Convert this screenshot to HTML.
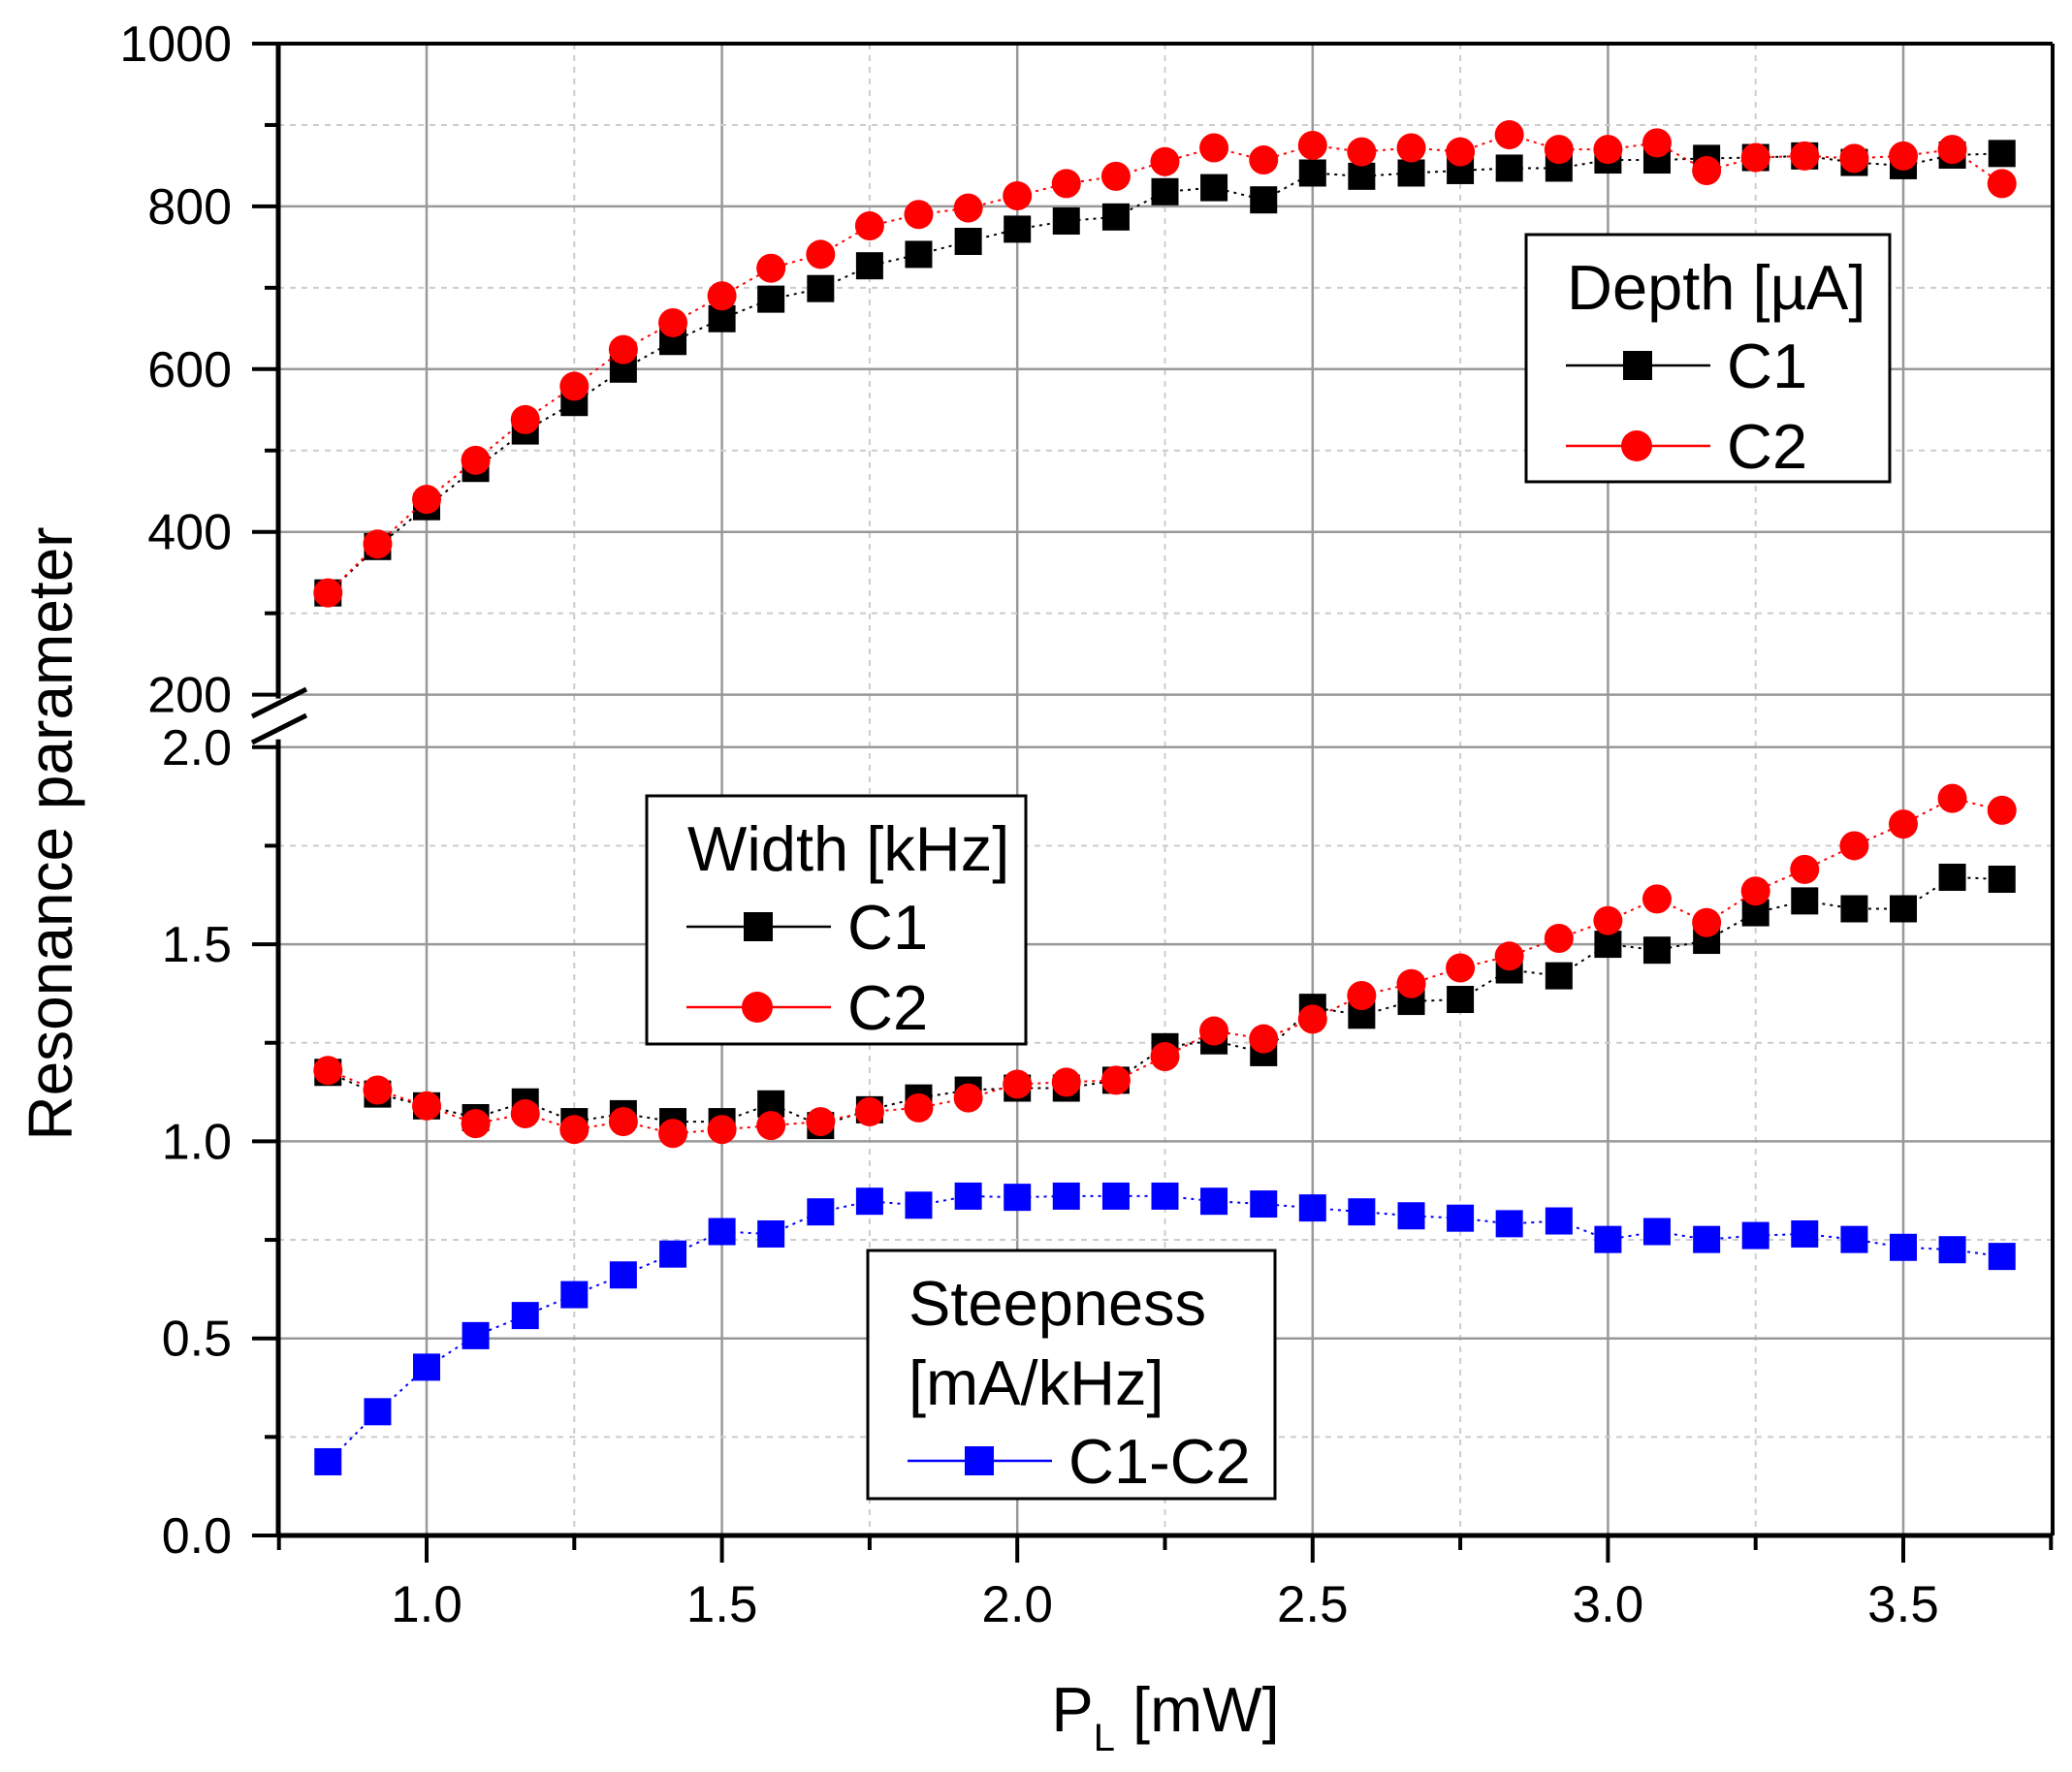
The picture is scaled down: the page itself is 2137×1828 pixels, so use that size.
<!DOCTYPE html>
<html><head><meta charset="utf-8"><style>
html,body{margin:0;padding:0;background:#fff;}
svg{display:block;font-family:"Liberation Sans",Arial,sans-serif;}
</style></head><body>
<svg id="chart" width="2137" height="1828" viewBox="0 0 2137 1828" xmlns="http://www.w3.org/2000/svg">
<g id="grid"></g>
<g id="axes"></g>
<g id="series"></g>
<g id="legends"></g>
<text x="0" y="0" font-size="64" text-anchor="middle" transform="translate(74,860) rotate(-90)">Resonance parameter</text>
<text x="1202" y="1786" font-size="65" text-anchor="middle">P<tspan font-size="40" dy="20">L</tspan><tspan dy="-20"> [mW]</tspan></text>
</svg>
<script>
const xValues = [0.833,0.917,1.0,1.083,1.167,1.25,1.333,1.417,1.5,1.583,1.667,1.75,1.833,1.917,2.0,2.083,2.167,2.25,2.333,2.417,2.5,2.583,2.667,2.75,2.833,2.917,3.0,3.083,3.167,3.25,3.333,3.417,3.5,3.583,3.667];
const depthC1 = [325,382,431,478,524,559,600,634,662,686,699,727,741,757,772,782,787,818,823,808,841,837,841,844,847,847,857,857,859,860,862,854,850,863,865];
const depthC2 = [325,385,440,488,538,579,624,657,690,724,741,776,790,798,813,828,837,855,872,857,875,867,872,867,888,870,870,878,844,860,862,859,862,870,828];
const widthC1 = [1.175,1.12,1.09,1.06,1.10,1.05,1.07,1.05,1.05,1.095,1.04,1.08,1.11,1.13,1.135,1.135,1.155,1.24,1.255,1.225,1.34,1.32,1.355,1.36,1.435,1.42,1.50,1.485,1.51,1.58,1.61,1.59,1.59,1.67,1.665];
const widthC2 = [1.18,1.13,1.09,1.045,1.07,1.03,1.05,1.02,1.03,1.04,1.05,1.075,1.085,1.11,1.145,1.15,1.155,1.215,1.28,1.26,1.31,1.37,1.40,1.44,1.47,1.515,1.56,1.615,1.555,1.635,1.69,1.75,1.805,1.87,1.84];
const steepness = [0.187,0.314,0.427,0.507,0.558,0.611,0.661,0.714,0.771,0.765,0.821,0.848,0.838,0.861,0.858,0.861,0.861,0.861,0.848,0.841,0.831,0.821,0.811,0.805,0.791,0.798,0.751,0.771,0.751,0.761,0.765,0.751,0.731,0.725,0.708];
const xTicks = ["1.0","1.5","2.0","2.5","3.0","3.5"];
const topTicks = ["200","400","600","800","1000"];
const botTicks = ["0.0","0.5","1.0","1.5","2.0"];

const NS="http://www.w3.org/2000/svg";
const L=287,R=2117,B=1584,T=45;
function xs(v){return 440+(v-1.0)*609.2;}
function yTop(v){return 45+(1000-v)*0.8395;}
function yBot(v){return 1584-v*406.6;}
function mk(tag,attrs,parent){const e=document.createElementNS(NS,tag);for(const k in attrs)e.setAttribute(k,attrs[k]);parent.appendChild(e);return e;}
const grid=document.getElementById('grid'),axes=document.getElementById('axes'),ser=document.getElementById('series'),leg=document.getElementById('legends');

for(let v=0.75;v<=3.76;v+=0.25){
  const x=xs(v);const major=Math.abs(v*2-Math.round(v*2))<1e-6 && v>=1.0;
  if(x<=L+2||x>=R-2)continue;
  const g=mk('line',{x1:x,x2:x,y1:T,y2:B,stroke:major?'#999':'#ccc','stroke-width':major?2.5:2,'stroke-dasharray':major?'':'6,6'},grid);
  
}
for(let v=200;v<1000;v+=100){
  const y=yTop(v);const major=v%200===0;
  const g=mk('line',{x1:L,x2:R,y1:y,y2:y,stroke:major?'#999':'#ccc','stroke-width':major?2.5:2,'stroke-dasharray':major?'':'6,6'},grid);
  
}
for(let v=0.25;v<=2.0;v+=0.25){
  const y=yBot(v);const major=Math.abs(v*2-Math.round(v*2))<1e-6;
  const g=mk('line',{x1:L,x2:R,y1:y,y2:y,stroke:major?'#999':'#ccc','stroke-width':major?2.5:2,'stroke-dasharray':major?'':'6,6'},grid);
  
}
mk('line',{x1:L,x2:R,y1:T,y2:T,stroke:'#000','stroke-width':4},axes);
mk('line',{x1:R,x2:R,y1:T,y2:B,stroke:'#000','stroke-width':4},axes);
mk('line',{x1:L,x2:R,y1:B,y2:B,stroke:'#000','stroke-width':5},axes);
mk('line',{x1:L,x2:L,y1:T,y2:yTop(200)+4,stroke:'#000','stroke-width':5},axes);
mk('line',{x1:L,x2:L,y1:yBot(2.0)-8,y2:B,stroke:'#000','stroke-width':5},axes);
mk('line',{x1:260,x2:316,y1:739,y2:711,stroke:'#000','stroke-width':5},axes);
mk('line',{x1:260,x2:316,y1:766,y2:738,stroke:'#000','stroke-width':5},axes);
for(let v=0.75;v<=3.76;v+=0.25){
  const x=xs(v);const major=Math.abs(v*2-Math.round(v*2))<1e-6;
  mk('line',{x1:x,x2:x,y1:B,y2:B+(major?28:15),stroke:'#000','stroke-width':4},axes);
}
xTicks.forEach(t=>{const e=mk('text',{x:xs(parseFloat(t)),y:1673,'font-size':53,'text-anchor':'middle'},axes);e.textContent=t;
 });
for(let v=200;v<=1000;v+=100){const y=yTop(v);mk('line',{x1:L-(v%200===0?27:14),x2:L,y1:y,y2:y,stroke:'#000','stroke-width':4},axes);}
topTicks.forEach(t=>{const e=mk('text',{x:239,y:yTop(parseFloat(t))+18,'font-size':52,'text-anchor':'end'},axes);e.textContent=t;
 });
for(let v=0;v<=2.0;v+=0.25){const y=yBot(v);const major=Math.abs(v*2-Math.round(v*2))<1e-6;mk('line',{x1:L-(major?27:14),x2:L,y1:y,y2:y,stroke:'#000','stroke-width':4},axes);}
botTicks.forEach(t=>{const e=mk('text',{x:239,y:yBot(parseFloat(t))+18,'font-size':52,'text-anchor':'end'},axes);e.textContent=t;
 });

function drawSeries(vals,yf,color,shape,name){
  const g=mk('g',{},ser);
  
  
  const pts=vals.map((v,i)=>xs(xValues[i])+','+yf(v)).join(' ');
  mk('polyline',{points:pts,fill:'none',stroke:color,'stroke-width':2,'stroke-dasharray':'3,5'},g);
  vals.forEach((v,i)=>{
    const x=xs(xValues[i]),y=yf(v);let m;
    if(shape==='sq')m=mk('rect',{x:x-14,y:y-14,width:28,height:28,fill:color},g);
    else m=mk('circle',{cx:x,cy:y,r:15,fill:color},g);
    
    
  });
}
drawSeries(depthC1,yTop,'#000','sq','depth-c1');
drawSeries(depthC2,yTop,'#f00','ci','depth-c2');
drawSeries(widthC1,yBot,'#000','sq','width-c1');
drawSeries(widthC2,yBot,'#f00','ci','width-c2');
drawSeries(steepness,yBot,'#00f','sq','steepness-c1-c2');

function legend(x,y,w,h,titleLines,entries,name){
  const g=mk('g',{},leg);
  
  
  mk('rect',{x:x,y:y,width:w,height:h,fill:'#fff',stroke:'#000','stroke-width':3},g);
  titleLines.forEach((t,i)=>{const e=mk('text',{x:x+42,y:y+77+i*82,'font-size':65},g);e.textContent=t;});
  entries.forEach((en,i)=>{
    const cy=y+135+titleLines.length*82-82+i*83;
    mk('line',{x1:x+41,x2:x+190,y1:cy,y2:cy,stroke:en.c,'stroke-width':2.5},g);
    if(en.s==='sq')mk('rect',{x:x+100,y:cy-15,width:30,height:30,fill:en.c},g);
    else mk('circle',{cx:x+114,cy:cy,r:16,fill:en.c},g);
    const e=mk('text',{x:x+207,y:cy+23,'font-size':65},g);e.textContent=en.t;
    
  });
}
legend(1574,242,375,255,['Depth [µA]'],[{c:'#000',s:'sq',t:'C1'},{c:'#f00',s:'ci',t:'C2'}],'depth-legend');
legend(667,821,391,256,['Width [kHz]'],[{c:'#000',s:'sq',t:'C1'},{c:'#f00',s:'ci',t:'C2'}],'width-legend');
legend(895,1290,420,256,['Steepness','[mA/kHz]'],[{c:'#00f',s:'sq',t:'C1-C2'}],'steepness-legend');
</script>
</body></html>
